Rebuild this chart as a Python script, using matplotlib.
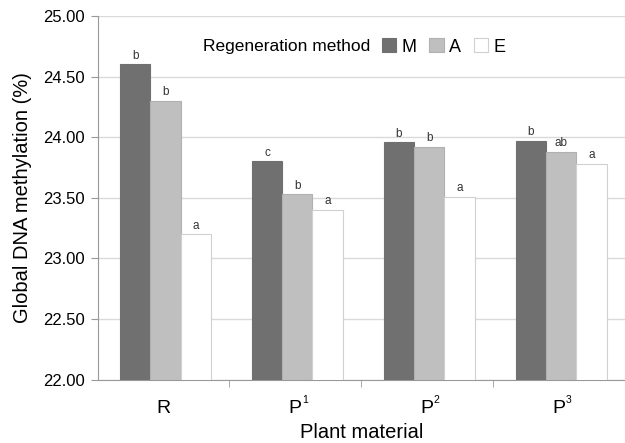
import numpy as np
import matplotlib
matplotlib.use('Agg')
import matplotlib.pyplot as plt
from matplotlib.patches import Patch

plt.rcParams['font.family'] = ['Liberation Sans', 'DejaVu Sans']

# data
materials = ['R', 'P', 'P', 'P']
material_sup = ['', '1', '2', '3']
methods = ['M', 'A', 'E']
meth_M = [24.60, 23.80, 23.96, 23.97]
meth_A = [24.30, 23.53, 23.92, 23.88]
meth_E = [23.20, 23.40, 23.51, 23.78]
letters_M = ['b', 'c', 'b', 'b']
letters_A = ['b', 'b', 'b', 'ab']
letters_E = ['a', 'a', 'a', 'a']

colors = ['#707070', '#bfbfbf', '#ffffff']
edges = ['#707070', '#b0b0b0', '#d0d0d0']

fig = plt.figure(figsize=(6.25, 4.43), dpi=100)
ax = fig.add_axes([0.156, 0.1433, 0.844, 0.8206])

x = np.arange(len(materials))
w = 0.23
series = [meth_M, meth_A, meth_E]
labs = [letters_M, letters_A, letters_E]
for i in range(3):
    pos = x + (i - 1) * w + 0.015
    ax.bar(pos, np.array(series[i]) - 22, bottom=22, width=w, color=colors[i],
           edgecolor=edges[i], linewidth=0.8, zorder=3)
    for px, v, t in zip(pos, series[i], labs[i]):
        ax.text(px, v + 0.02, t, ha='center', va='bottom', fontsize=8.5, color='#333333')

ax.set_xlim(-0.5, 3.5)
ax.set_ylim(22, 25)
ax.set_yticks(np.arange(22, 25.01, 0.5))
ax.set_yticklabels(['%.2f' % v for v in np.arange(22, 25.01, 0.5)], fontsize=12)
ax.yaxis.grid(True, color='#dadada', linewidth=1, zorder=0)
ax.set_axisbelow(True)

ax.set_xticks(x)
ax.set_xticklabels(materials, fontsize=14)
ax.set_xticks([0.5, 1.5, 2.5], minor=True)
ax.tick_params(axis='x', which='major', length=0, pad=15)
ax.tick_params(axis='x', which='minor', length=5, color='#999999')
ax.tick_params(axis='y', length=5, color='#999999', pad=4)

# small superscripts next to the P labels
for i, s in enumerate(material_sup):
    if s:
        ax.annotate(s, xy=(i, 0), xycoords=('data', 'axes fraction'),
                    xytext=(4.8, -11), textcoords='offset points',
                    fontsize=7.5, ha='left', va='top')

for s in ['top', 'right']:
    ax.spines[s].set_visible(False)
for s in ['left', 'bottom']:
    ax.spines[s].set_color('#999999')

ax.set_xlabel('Plant material', fontsize=14.5, labelpad=4)
ax.set_ylabel('Global DNA methylation (%)', fontsize=14.5, labelpad=8)

fig.text(0.325, 0.894, 'Regeneration method', fontsize=12.5, va='center', ha='left')
handles = [Patch(facecolor=colors[i], edgecolor=edges[i], linewidth=0.8) for i in range(3)]
fig.legend(handles, methods, loc='center left', bbox_to_anchor=(0.611, 0.894),
           ncol=3, frameon=False, fontsize=13, handlelength=0.8, handleheight=0.8,
           handletextpad=0.3, columnspacing=0.7, borderpad=0, borderaxespad=0)

fig.savefig('out.png', dpi=100)
